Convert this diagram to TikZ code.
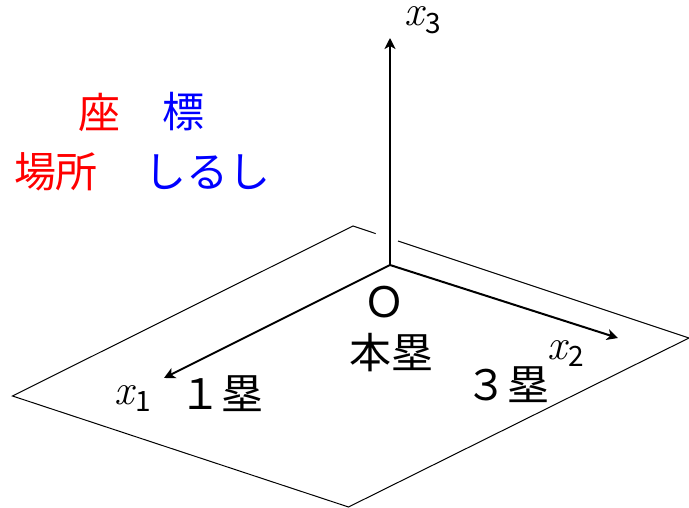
\documentclass[tikz,border=0pt]{standalone}
\usepackage{fontspec}
\setmainfont{Latin Modern Roman}
\newfontfamily\cjk{Noto Sans CJK JP}
\usetikzlibrary{arrows.meta}
\newcommand\axlab[1]{{\itshape x}\kern2pt\raisebox{-7.5pt}{\cjk\fontsize{28}{28}\selectfont #1}}
\begin{document}
\begin{tikzpicture}[x=1pt,y=-1pt,
  plane/.style={line width=1pt},
  axis/.style={line width=2pt,-{Stealth[length=11pt,width=11pt,inset=3pt]}},
  jp/.style={font=\cjk\fontsize{42}{46}\selectfont, inner sep=0pt},
  mlab/.style={font=\fontsize{43}{46}\selectfont, inner sep=0pt, anchor=base west}]
\useasboundingbox (0,0) rectangle (689,508);
% plane
\coordinate (L) at (12.5,396);
\coordinate (T) at (353,226);
\coordinate (R) at (689,338);
\coordinate (B) at (348.5,507);
\coordinate (G1) at (375.7,233.6);
\coordinate (G2) at (398,241);
\draw[plane] (G1) -- (T) -- (L) -- (B) -- (R) -- (G2);
% axes
\coordinate (O) at (390,265);
\coordinate (E3) at (390,38);
\coordinate (E1) at (164,378);
\coordinate (E2) at (618,338);
\draw[axis] (O) -- (E3);
\draw[axis] (O) -- (E1);
\draw[axis] (O) -- (E2);
% axis labels
\node[mlab] (lx3) at (404,26) {\axlab{3}};
\node[mlab] (lx1) at (114,404) {\axlab{1}};
\node[mlab] (lx2) at (547,359) {\axlab{2}};
% plane labels
\node[jp] (o) at (384,302) {Ｏ};
\node[jp] (home) at (391,353) {本塁};
\node[jp] (first) at (221,394) {１塁};
\node[jp] (third) at (507,385) {３塁};
% legend
\node[jp, text=red] (za) at (99,112) {座};
\node[jp, text=blue] (hyo) at (183,112) {標};
\node[jp, text=red] (basho) at (56,172) {場所};
\node[jp, text=blue] (shirushi) at (207,172) {しるし};
\end{tikzpicture}
\end{document}
